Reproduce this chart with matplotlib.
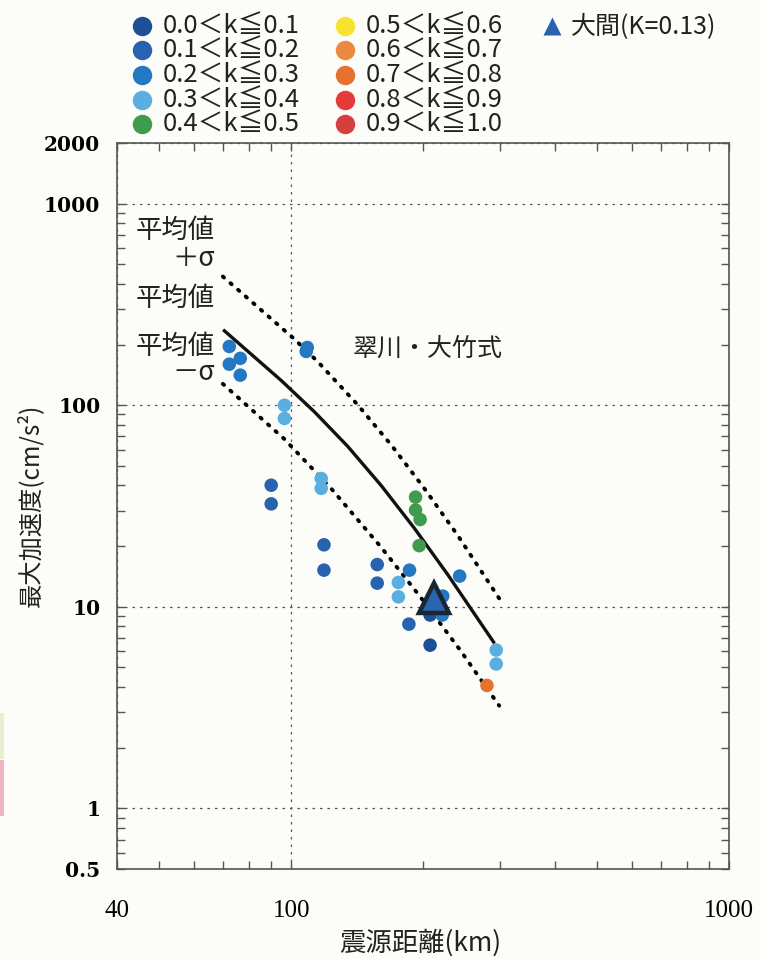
import matplotlib
matplotlib.use('Agg')
import matplotlib.pyplot as plt
import numpy as np
from matplotlib.patches import Rectangle
from matplotlib.ticker import FixedLocator, NullFormatter

plt.rcParams['font.family'] = ['Noto Sans CJK JP', 'DejaVu Sans']

# classes de k et couleurs
k_labels = ['0.0＜k≦0.1', '0.1＜k≦0.2', '0.2＜k≦0.3', '0.3＜k≦0.4', '0.4＜k≦0.5',
            '0.5＜k≦0.6', '0.6＜k≦0.7', '0.7＜k≦0.8', '0.8＜k≦0.9', '0.9＜k≦1.0']
k_colors = ['#1d4f98', '#2763ae', '#2478c2', '#5aaee0', '#3f9b4e',
            '#f6e330', '#ea8a40', '#e6722e', '#e23b3a', '#d43f3f']

# observations : distance (km), PGA (cm/s2), classe de k
dist = [72.2, 76.5, 72.2, 76.5, 108.8, 108.2, 90.0, 90.0,
        96.5, 96.5, 117.1, 117.1, 118.8, 118.8,
        157.2, 157.2, 175.7, 175.7, 186.3,
        192.3, 192.3, 197.0, 196.0, 242.5,
        221.9, 207.6, 221.3, 185.7, 207.6,
        294.0, 294.0, 280.0]
pga = [195.6, 170.8, 159.8, 141.0, 193.5, 184.9, 40.1, 32.4,
       100.0, 86.0, 43.3, 38.7, 20.3, 15.2,
       16.2, 13.1, 13.2, 11.2, 15.2,
       35.0, 30.2, 27.1, 20.1, 14.2,
       11.3, 9.1, 9.1, 8.2, 6.45,
       6.1, 5.2, 4.07]
k_class = [2, 2, 2, 2, 2, 2, 1, 1,
           3, 3, 3, 3, 1, 1,
           1, 1, 3, 3, 2,
           4, 4, 4, 4, 2,
           2, 0, 2, 1, 0,
           3, 3, 7]

# station Oma
oma_dist = 211.5
oma_pga = 11.0

# courbes Si & Midorikawa
mean_d = [69.9, 94.9, 113.0, 134.7, 160.6, 191.2, 228.0, 291.3]
mean_a = [237.0, 132.6, 92.7, 62.4, 39.9, 24.5, 14.4, 6.58]
up_d = [69.8, 101.6, 115.1, 142.0, 169.4, 201.5, 240.1, 298.6]
up_a = [435.0, 213.2, 164.1, 100.2, 63.3, 38.6, 22.6, 11.0]
low_d = [69.8, 96.5, 123.4, 160.6, 198.0, 242.3, 298.6]
low_a = [127.6, 67.9, 38.6, 19.7, 11.07, 6.16, 3.23]

bg = '#fcfcf8'
txt = '#222222'
fig = plt.figure(figsize=(7.6, 9.59), dpi=100, facecolor=bg)
ax = fig.add_axes([117/760, 1-869/959, 612/760, 726/959], facecolor=bg)

ax.set_xscale('log')
ax.set_yscale('log')
ax.set_xlim(40, 1000)
ax.set_ylim(0.5, 2000)

ax.plot(up_d, up_a, color='black', lw=2.8, ls=(0, (0.4, 2.2)), dash_capstyle='round', zorder=3)
ax.plot(low_d, low_a, color='black', lw=2.8, ls=(0, (0.4, 2.2)), dash_capstyle='round', zorder=3)
ax.plot(mean_d, mean_a, color='#111111', lw=2.4, solid_capstyle='butt', zorder=3)

cols = [k_colors[c] for c in k_class]
ax.scatter(dist, pga, s=95, c=cols, edgecolors='none', zorder=4)
ax.plot([oma_dist], [oma_pga], marker='^', ms=21, color='#2a65b0',
        markeredgecolor='#1b2633', markeredgewidth=3.2, zorder=5)

# textes
ax.text(67, 736, '平均値', ha='right', va='center', fontsize=19, color=txt)
ax.text(67, 534, '＋σ', ha='right', va='center', fontsize=19, color=txt)
ax.text(67, 337, '平均値', ha='right', va='center', fontsize=19, color=txt)
ax.text(67, 196, '平均値', ha='right', va='center', fontsize=19, color=txt)
ax.text(67, 145.6, '－σ', ha='right', va='center', fontsize=19, color=txt)
ax.text(205, 189.6, '翠川・大竹式', ha='center', va='center', fontsize=18, color=txt)

# axes
ax.xaxis.set_major_locator(FixedLocator([40, 100, 1000]))
ax.xaxis.set_minor_locator(FixedLocator([50, 60, 70, 80, 90, 200, 300, 400, 500, 600, 700, 800, 900]))
ax.set_xticklabels(['40', '100', '1000'], family='Liberation Serif', fontsize=18)
ax.xaxis.set_minor_formatter(NullFormatter())
ax.yaxis.set_major_locator(FixedLocator([0.5, 1, 10, 100, 1000, 2000]))
ax.yaxis.set_minor_locator(FixedLocator([0.6, 0.7, 0.8, 0.9] + [m * 10**e for e in range(0, 3) for m in range(2, 10)]))
ax.set_yticklabels(['0.5', '1', '10', '100', '1000', '2000'], family='DejaVu Serif', fontweight='bold', fontsize=14.5)
ax.yaxis.set_minor_formatter(NullFormatter())
ax.tick_params(which='both', direction='in', top=True, right=True, length=6, width=1, color='#555555')
ax.tick_params(axis='x', which='major', pad=22)
ax.tick_params(axis='y', which='major', pad=12)
ax.grid(which='major', color='#555555', lw=0.9, ls=(0, (2, 4)))
for s in ax.spines.values():
    s.set_color('#555555')
    s.set_linewidth(1.2)

fig.text(420/760, 1-943/959, '震源距離(km)', ha='center', va='center', fontsize=19, color=txt)
fig.text(30/760, 1-505/959, '最大加速度(cm/s²)', ha='center', va='center', rotation=90, fontsize=17.5, color=txt)

# légende dessinée à la main
lax = fig.add_axes([0, 0, 1, 1], facecolor='none')
lax.set_xlim(0, 760)
lax.set_ylim(959, 0)
lax.axis('off')
rows = [26, 50, 75, 100, 124]
for i, (lab, col) in enumerate(zip(k_labels, k_colors)):
    x0 = 142 if i < 5 else 345
    y0 = rows[i % 5]
    lax.plot([x0], [y0], marker='o', ms=14, color=col, mec='none')
    lax.text(x0 + 21, y0, lab, ha='left', va='center', fontsize=18.5, color=txt)
lax.plot([552], [rows[0]], marker='^', ms=13, color='#2a62ad', mec='none')
lax.text(571, rows[0], '大間(K=0.13)', ha='left', va='center', fontsize=18, color=txt)

# bord de page coloré à gauche
fig.add_artist(Rectangle((0, 1-759/959), 4/760, 46/959, transform=fig.transFigure, color='#e6efd2', lw=0))
fig.add_artist(Rectangle((0, 1-816/959), 4/760, 56/959, transform=fig.transFigure, color='#f0b4c2', lw=0))

fig.savefig('out.png', dpi=100, facecolor=bg)
